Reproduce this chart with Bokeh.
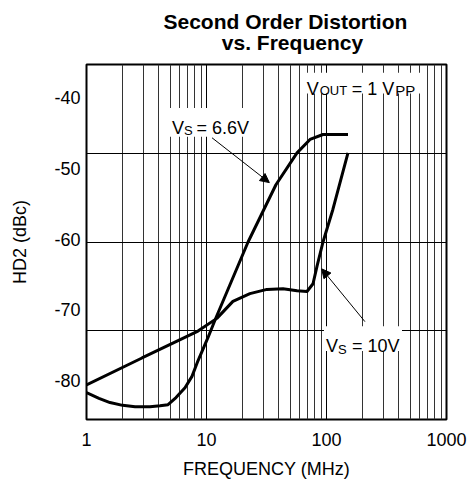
from bokeh.plotting import figure
from bokeh.models import (Range1d, FixedTicker, Label, BoxAnnotation, Arrow,
                          NormalHead, Grid, CustomJSTickFormatter)
from bokeh.embed import file_html
from bokeh.resources import INLINE

# ---------------- data ----------------
freq_66 = [1.0, 1.27, 1.57, 2.0, 2.54, 3.38, 4.10, 4.78, 5.57, 6.62, 7.57, 8.49, 10.3, 11.8,
           22.2, 37.9, 56.8, 72.9, 93.5, 151]
hd2_66 = [-81.7, -82.5, -83.1, -83.5, -83.7, -83.7, -83.55, -83.4, -82.4, -81.0, -79.4, -77.2, -73.9, -71.4,
          -60.4, -52.3, -47.8, -45.9, -45.2, -45.2]

freq_10 = [1.0, 2.90, 8.49, 12.2, 16.6, 23.0, 31.9, 43.4, 56.8, 68.8, 77.2, 83.4, 93.5, 113, 151]
hd2_10 = [-80.6, -76.8, -73.0, -71.2, -68.8, -67.7, -67.1, -67.0, -67.3, -67.4, -66.3, -63.8, -60.4, -55.8, -47.8]

x_tick_values = [1, 10, 100, 1000]
x_tick_labels = ["1", "10", "100", "1000"]
y_tick_values = [-80, -70, -60, -50, -40]
y_tick_labels = ["-80", "-70", "-60", "-50", "-40"]

title_lines = ["Second Order Distortion", "vs. Frequency"]
x_label = "FREQUENCY (MHz)"
y_label = "HD2 (dBc)"

x_range_vals = (1, 1000)
y_range_vals = (-85.5, -35.3)
x_minor_grid = [m * d for d in (1, 10, 100) for m in range(2, 10)]
x_major_grid = [10, 100]
n_y_div = 4
y_grid_values = [y_range_vals[0] + k * (y_range_vals[1] - y_range_vals[0]) / n_y_div
                 for k in range(1, n_y_div)]

FONT = "Liberation Sans"

p = figure(width=471, height=481, x_axis_type="log",
           x_range=Range1d(*x_range_vals), y_range=Range1d(*y_range_vals),
           output_backend="svg", toolbar_location=None,
           min_border_left=86, min_border_right=25, min_border_top=64, min_border_bottom=59)
p.background_fill_color = "white"
p.border_fill_color = "white"
p.outline_line_color = "black"
p.outline_line_width = 2
p.outline_line_alpha = 1

# ---- two-line title ----
p.title.text = title_lines[0] + "\n" + "\u00a0" * 10 + title_lines[1]
p.title.align = "left"
p.title.offset = 77
p.title.standoff = 17
p.title.vertical_align = "top"
p.title.text_font = FONT
p.title.text_font_size = "21px"
p.title.text_font_style = "bold"
p.title.text_color = "black"
p.title.text_line_height = 0.91

# ---- axes ----
def formatter(vals, labs):
    return CustomJSTickFormatter(
        args=dict(vals=vals, labs=labs),
        code="const i = vals.indexOf(tick); return i >= 0 ? labs[i] : '';")

xa = p.xaxis[0]
xa.ticker = FixedTicker(ticks=x_tick_values)
xa.formatter = formatter(x_tick_values, x_tick_labels)
xa.major_tick_line_color = None
xa.minor_tick_line_color = None
xa.major_tick_out = 0
xa.major_tick_in = 0
xa.minor_tick_out = 0
xa.axis_line_color = None
xa.major_label_standoff = 13
xa.major_label_text_font = FONT
xa.major_label_text_font_size = "18px"
xa.major_label_text_color = "black"
xa.axis_label = x_label
xa.axis_label_text_font = FONT
xa.axis_label_text_font_size = "18px"
xa.axis_label_text_font_style = "normal"
xa.axis_label_text_color = "black"
xa.axis_label_standoff = 10

ya = p.yaxis[0]
ya.ticker = FixedTicker(ticks=y_tick_values)
ya.formatter = formatter(y_tick_values, y_tick_labels)
ya.major_tick_line_color = None
ya.minor_tick_line_color = None
ya.major_tick_out = 0
ya.major_tick_in = 0
ya.minor_tick_out = 0
ya.axis_line_color = None
ya.major_label_standoff = 6
ya.major_label_text_font = FONT
ya.major_label_text_font_size = "18px"
ya.major_label_text_color = "black"
ya.axis_label = y_label
ya.axis_label_text_font = FONT
ya.axis_label_text_font_size = "18px"
ya.axis_label_text_font_style = "normal"
ya.axis_label_text_color = "black"
ya.axis_label_standoff = 21

# ---- grids ----
p.xgrid[0].ticker = FixedTicker(ticks=x_minor_grid)
p.xgrid[0].grid_line_color = "#333333"
p.xgrid[0].grid_line_width = 1
p.add_layout(Grid(dimension=0, ticker=FixedTicker(ticks=x_major_grid),
                  grid_line_color="black", grid_line_width=1))
p.ygrid[0].ticker = FixedTicker(ticks=y_grid_values)
p.ygrid[0].grid_line_color = "black"
p.ygrid[0].grid_line_width = 1

# ---- curves ----
p.line(freq_66, hd2_66, line_width=3, line_color="black")
p.line(freq_10, hd2_10, line_width=3, line_color="black")

# ---- label backgrounds ----
boxes = [
    (4.96, 24.9, -41.45, -45.52),     # VS = 6.6V
    (95.3, 425.7, -72.32, -75.83),    # VS = 10V
    (66.2, 662.0, -36.46, -39.41),    # VOUT = 1 VPP
]
for l, r, t, b in boxes:
    p.add_layout(BoxAnnotation(left=l, right=r, top=t, bottom=b,
                               fill_color="white", fill_alpha=1, line_color=None))

# ---- arrows ----
arrows = [
    (11.11, -45.66, 33.4, -52.0),
    (209.0, -71.66, 91.2, -64.2),
]
for xs, ys, xe, ye in arrows:
    p.add_layout(Arrow(end=NormalHead(size=9, fill_color="black", line_color="black", line_width=1),
                       x_start=xs, y_start=ys, x_end=xe, y_end=ye,
                       line_color="black", line_width=1))

# ---- composite texts with subscripts ----
def piece(x, y, text, dx=0, dy=0, size=18):
    p.add_layout(Label(x=x, y=y, x_offset=dx, y_offset=dy, text=text,
                       text_font=FONT, text_font_size=f"{size}px",
                       text_color="black", text_align="left",
                       text_baseline="alphabetic"))

# VS = 6.6V
piece(5.16, -44.25, "V")
piece(5.16, -44.25, "S", dx=12, dy=-3, size=13)
piece(5.16, -44.25, "= 6.6V", dx=24.5)
# VS = 10V
piece(99.0, -75.17, "V")
piece(99.0, -75.17, "S", dx=12, dy=-3, size=13)
piece(99.0, -75.17, "= 10V", dx=26)
# VOUT = 1 VPP
piece(68.4, -38.82, "V")
piece(68.4, -38.82, "OUT", dx=13, dy=-1.5, size=13)
piece(68.4, -38.82, "= 1 V", dx=45)
piece(68.4, -38.82, "PP", dx=88.5, dy=-1.5, size=15)

open("out.html", "w").write(file_html(p, INLINE))
